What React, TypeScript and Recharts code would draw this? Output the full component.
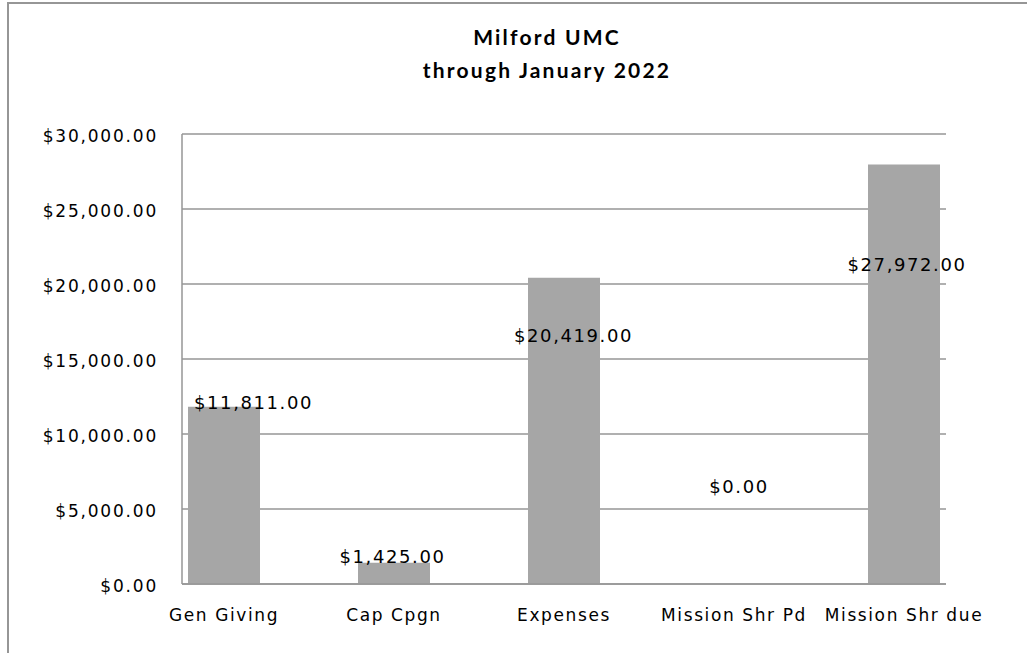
import { ComposedChart, Bar, Line, XAxis, YAxis, CartesianGrid, LabelList } from "recharts";

const categories = ["Gen Giving", "Cap Cpgn", "Expenses", "Mission Shr Pd", "Mission Shr due"];
const amounts = [11811, 1425, 20419, 0, 27972];
const yTicks = [0, 5000, 10000, 15000, 20000, 25000, 30000];

// where Excel left each data label, relative to the top centre of its bar
const labelShift = [
    [29.5, -4],
    [-1.5, -6],
    [9.5, 58],
    [5, -97],
    [3, 100],
];

const FONT = "DejaVu Sans, sans-serif";
const LINE = "#969696";

const money = (v: number) =>
    "$" + v.toLocaleString("en-US", { minimumFractionDigits: 2, maximumFractionDigits: 2 });

const data = categories.map((name, i) => ({ name, amount: amounts[i] }));

function XTick(props: any) {
    const { x, y, payload } = props;
    return (
        <text x={x} y={y + 37} textAnchor="middle" style={{ fontFamily: FONT }} fontSize={17} letterSpacing={1.6} fill="#000">
            {payload.value}
        </text>
    );
}

function YTick(props: any) {
    const { x, y, payload } = props;
    return (
        <text x={x} y={y + 2} dy="0.35em" textAnchor="end" style={{ fontFamily: FONT }} fontSize={17} letterSpacing={1.8} fill="#000">
            {money(payload.value)}
        </text>
    );
}

// labels hang off an invisible line so the zero value still gets one
function PointLabel(props: any) {
    const { x, y, value, index } = props;
    const [dx, dy] = labelShift[index] || [0, 0];
    return (
        <text
            x={Number(x) + dx}
            y={Number(y) + dy}
            dy="0.35em"
            textAnchor="middle"
            style={{ fontFamily: FONT }}
            fontSize={18}
            letterSpacing={1.6}
            fill="#000"
        >
            {money(Number(value))}
        </text>
    );
}

export default function App() {
    return (
        <div style={{ position: "absolute", left: 0, top: 0, width: 1027, height: 653, overflow: "hidden", background: "#fff" }}>
            <div
                style={{
                    position: "absolute",
                    left: 7,
                    top: 2,
                    width: 1200,
                    height: 800,
                    borderTop: `2px solid ${LINE}`,
                    borderLeft: `2px solid ${LINE}`,
                }}
            />
            <div
                style={{
                    position: "absolute",
                    left: 247,
                    top: 20,
                    width: 600,
                    textAlign: "center",
                    fontFamily: "Lato, sans-serif",
                    fontWeight: 700,
                    fontSize: 21,
                    lineHeight: "33px",
                    letterSpacing: 2.2,
                    color: "#000",
                }}
            >
                <div>Milford UMC</div>
                <div>through January 2022</div>
            </div>
            <div style={{ position: "absolute", left: 0, top: 0 }}>
                <ComposedChart
                    width={1027}
                    height={653}
                    data={data}
                    margin={{ top: 134, right: 81, bottom: 0, left: 0 }}
                >
                    <CartesianGrid vertical={false} stroke={LINE} strokeWidth={1.5} />
                    <XAxis
                        dataKey="name"
                        padding={{ left: -43, right: -43 }}
                        axisLine={{ stroke: LINE, strokeWidth: 1.5 }}
                        tickLine={false}
                        tickSize={0}
                        tickMargin={0}
                        tick={<XTick />}
                        interval={0}
                        height={69}
                    />
                    <YAxis
                        width={182}
                        domain={[0, 30000]}
                        ticks={yTicks}
                        axisLine={{ stroke: LINE, strokeWidth: 1.5 }}
                        tickLine={false}
                        tickSize={0}
                        tickMargin={24}
                        tick={<YTick />}
                    />
                    <Bar dataKey="amount" fill="#A6A6A6" barSize={72} isAnimationActive={false} />
                    <Line
                        dataKey="amount"
                        stroke="none"
                        dot={false}
                        activeDot={false}
                        legendType="none"
                        isAnimationActive={false}
                    >
                        <LabelList dataKey="amount" content={<PointLabel />} />
                    </Line>
                </ComposedChart>
            </div>
        </div>
    );
}
